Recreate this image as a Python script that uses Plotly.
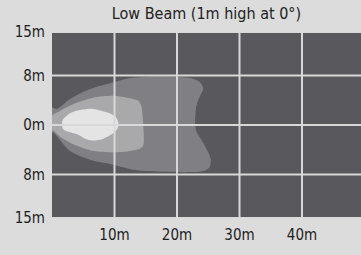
import plotly.graph_objects as go

# Beam contour polygons (metres): distance ahead (x) vs lateral offset (y)
outer_x = [0, 0.75, 2.9, 6.1, 9.8, 12.5, 15.7, 19.0, 22.1, 23.7, 24.2, 23.7, 23.1, 22.9,
           23.1, 23.8, 24.7, 25.4, 25.2, 24.3, 22.0, 17.3, 13.0, 9.8, 6.1, 2.9, 0.2, 0]
outer_y = [2.8, 2.6, 4.2, 5.8, 6.9, 7.6, 7.8, 7.8, 7.6, 6.9, 5.8, 4.7, 3.05, 0.3,
           -1.0, -2.2, -3.8, -5.5, -6.8, -7.4, -7.6, -7.5, -7.2, -6.4, -5.6, -4.2, -1.2, -1.3]

middle_x = [0, 0.8, 1.8, 4.0, 6.6, 9.8, 12.0, 13.8, 14.3, 14.6, 14.6, 14.1, 12.5, 10.3,
            6.6, 3.4, 1.3, 0.2, 0]
middle_y = [1.5, 2.0, 2.6, 3.6, 4.4, 4.7, 4.4, 3.9, 3.0, 0.0, -3.3, -3.8, -4.2, -4.4,
            -4.2, -3.1, -1.9, -0.9, -0.9]

inner_x = [1.7, 1.6, 1.8, 2.6, 4.0, 5.5, 6.6, 8.2, 10.1, 10.6, 10.6, 10.1, 8.75, 6.6, 4.5, 2.9]
inner_y = [0.8, 0.0, -0.7, -1.1, -1.5, -2.3, -2.5, -2.2, -1.1, -0.3, 0.4, 1.4, 2.05, 2.6, 2.4, 1.9]

x_ticks = [10, 20, 30, 40]
x_labels = ["10m", "20m", "30m", "40m"]
y_ticks = [15, 8, 0, -8, -15]
y_labels = ["15m", "8m", "0m", "8m", "15m"]

title = "Low Beam (1m high at 0°)"

FONT = "Liberation Sans Narrow, Arial Narrow, DejaVu Sans Condensed, Liberation Sans, Arial, sans-serif"

fig = go.Figure()
for xs, ys, col in [(outer_x, outer_y, "#807f83"),
                    (middle_x, middle_y, "#a9a9ab"),
                    (inner_x, inner_y, "#e4e4e4")]:
    fig.add_trace(go.Scatter(x=xs + xs[:1], y=ys + ys[:1], mode="lines",
                             fill="toself", fillcolor=col,
                             line=dict(width=0, color=col, shape="spline", smoothing=0.8),
                             hoverinfo="skip", showlegend=False))

grid_col = "#d8d8d8"
shapes = []
for v in x_ticks:
    shapes.append(dict(type="line", xref="x", yref="paper", x0=v, x1=v, y0=0, y1=1,
                       line=dict(color=grid_col, width=2), layer="above"))
for v in y_ticks:
    shapes.append(dict(type="line", xref="paper", yref="y", x0=0, x1=1, y0=v, y1=v,
                       line=dict(color=grid_col, width=2), layer="above"))

fig.update_layout(
    width=361, height=255,
    margin=dict(l=52, r=0, t=32, b=37, autoexpand=False),
    paper_bgcolor="#dcdcdc",
    plot_bgcolor="#59585d",
    shapes=shapes,
    title=dict(text=title, x=(52 + 361) / 2 / 361, xanchor="center", xref="container",
               y=1 - 13 / 255, yanchor="middle", yref="container",
               font=dict(family=FONT, size=16, color="#222222")),
    xaxis=dict(range=[0, 49.44], tickvals=x_ticks, ticktext=x_labels, showgrid=False,
               zeroline=False, showline=False, ticks="", automargin=False,
               ticklabelstandoff=6,
               tickfont=dict(family=FONT, size=15, color="#1e1e1e")),
    yaxis=dict(range=[-15, 15], tickvals=y_ticks, ticktext=y_labels, showgrid=False,
               zeroline=False, showline=False, ticks="", automargin=False,
               ticklabelstandoff=6,
               tickfont=dict(family=FONT, size=15, color="#1e1e1e")),
)

fig.write_html(
    "out.html",
    config={"displayModeBar": False, "staticPlot": True},
    post_script="document.body.style.margin='0';document.body.style.overflow='hidden';"
                "document.body.style.background='#dcdcdc';",
)
